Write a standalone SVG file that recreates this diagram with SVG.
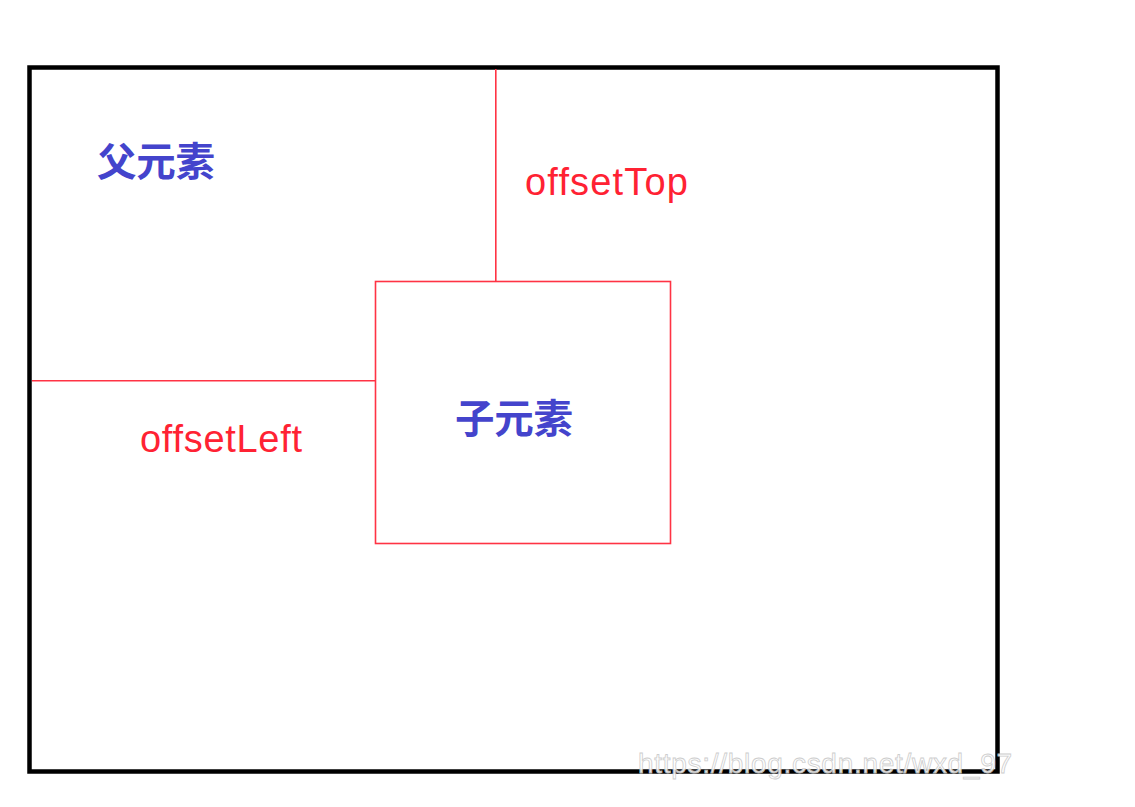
<svg xmlns="http://www.w3.org/2000/svg" width="1135" height="807" viewBox="0 0 1135 807">
<style>
.cjk{font-family:"Noto Sans CJK SC","Liberation Sans",sans-serif;font-weight:bold;font-size:39.5px;fill:#4444cc}
.lbl{font-family:"Liberation Sans",sans-serif;font-size:38px;fill:#ff2233}
.red{stroke:#ff3344;stroke-width:1.6;fill:none}
.wm{font-family:"Liberation Sans",sans-serif;font-size:28px;fill:#ffffff;stroke:#c8c8c8;stroke-width:0.8;opacity:0.9}
</style>
<rect width="1135" height="807" fill="#ffffff"/>
<g id="parent">
<rect x="29.5" y="67.5" width="968" height="704" fill="none" stroke="#000000" stroke-width="4.5"/>
<text class="cjk" x="97" y="176" textLength="118">父元素</text>
</g>
<g id="child">
<rect class="red" x="375.5" y="281.5" width="295" height="262"/>
<text class="cjk" x="455" y="433" textLength="118">子元素</text>
</g>
<g id="connectors">
<line class="red" x1="495.8" y1="69" x2="495.8" y2="281.5"/>
<line class="red" x1="32" y1="380.8" x2="375.5" y2="380.8"/>
</g>
<g id="labels">
<text class="lbl" x="525" y="195" textLength="163">offsetTop</text>
<text class="lbl" x="140" y="452" textLength="162">offsetLeft</text>
</g>
<text class="wm" x="638" y="773" textLength="374">https://blog.csdn.net/wxd_97</text>
</svg>
